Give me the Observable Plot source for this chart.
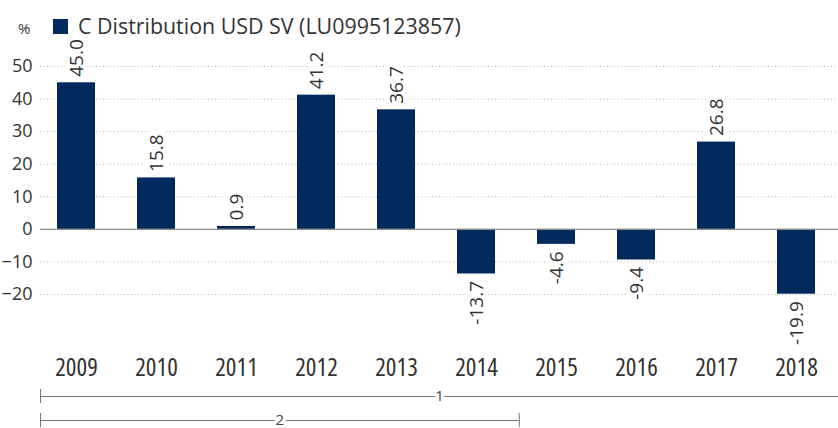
<!DOCTYPE html>
<html>
<head>
<meta charset="utf-8">
<script src="https://cdn.jsdelivr.net/npm/d3@7"></script>
<script src="https://cdn.jsdelivr.net/npm/@observablehq/plot@0.6"></script>
<style>
  html, body { margin: 0; padding: 0; background: #fff; }
  body { width: 838px; height: 428px; position: relative; overflow: hidden; font-family: "Open Sans", sans-serif; color: #333; }
  #legend { position: relative; height: 44px; }
  #unit { position: absolute; left: 18px; top: 21px; font-size: 15px; line-height: 1; }
  #swatch { position: absolute; left: 53px; top: 19px; width: 15px; height: 15px; }
  #series { position: absolute; left: 78px; top: 15px; font-size: 21.4px; line-height: 1; white-space: nowrap; }
  svg { display: block; }
  svg.main g[aria-label="x-axis tick label"] text { font-size: 25px; font-stretch: 80%; }
  svg.main g[aria-label="y-axis tick label"] text { font-size: 18px; }
</style>
</head>
<body>
<div id="legend"><span id="unit"></span><span id="swatch"></span><span id="series"></span></div>
<div id="chart"></div>
<div id="brackets"></div>
<script>
const years = ["2009", "2010", "2011", "2012", "2013", "2014", "2015", "2016", "2017", "2018"];
const returns = [45.0, 15.8, 0.9, 41.2, 36.7, -13.7, -4.6, -9.4, 26.8, -19.9];
const yTicks = [50, 40, 30, 20, 10, 0, -10, -20];
const seriesName = "C Distribution USD SV (LU0995123857)";
const unitLabel = "%";
const barColor = "#002a5c";
const periodLabels = ["1", "2"];
const periodStart = [2009, 2009];
const periodEnd = [2018, 2014];

document.getElementById("unit").textContent = unitLabel;
document.getElementById("series").textContent = seriesName;
document.getElementById("swatch").style.background = barColor;

const data = years.map((year, i) => ({year, value: returns[i]}));
const periods = periodLabels.map((label, i) => ({label, from: periodStart[i], to: periodEnd[i] + 1}));
const fmt = d => d.value.toFixed(1);

const main = Plot.plot({
  className: "main",
  width: 838,
  height: 340,
  marginLeft: 40,
  marginRight: 0,
  marginTop: 22,
  marginBottom: 57.4,
  style: {fontFamily: "'Open Sans', sans-serif", color: "#333", background: "transparent", overflow: "visible"},
  x: {domain: years, range: [35, 836], paddingInner: 0.525, paddingOuter: 0.2625},
  y: {domain: [-30, 50]},
  marks: [
    Plot.ruleY(yTicks.filter(v => v !== 0), {stroke: "#b5b5b5", strokeDasharray: "1,2.5"}),
    Plot.barY(data, {x: "year", y: "value", fill: barColor}),
    Plot.ruleY([0], {stroke: "#8a8a8a", strokeWidth: 1.2}),
    Plot.text(data.filter(d => d.value >= 0), {x: "year", y: "value", text: fmt, rotate: -90, textAnchor: "start", dy: -6, fill: "#333", stroke: "white", strokeWidth: 10, fontSize: 19, fontStretch: "80%"}),
    Plot.text(data.filter(d => d.value < 0), {x: "year", y: "value", text: fmt, rotate: -90, textAnchor: "end", dy: 7, fill: "#333", stroke: "white", strokeWidth: 10, fontSize: 19, fontStretch: "80%"}),
    Plot.axisY(yTicks, {tickSize: 0, tickPadding: 8, label: null, fill: "#333"}),
    Plot.axisX({tickSize: 0, tickPadding: 31, label: null, fill: "#333"})
  ]
});
document.getElementById("chart").appendChild(main);

const br = Plot.plot({
  width: 838,
  height: 44,
  margin: 0,
  style: {fontFamily: "'Open Sans', sans-serif", background: "transparent"},
  x: {type: "linear", domain: [2009, 2019], range: [40, 838], axis: null},
  y: {type: "band", domain: periodLabels, range: [0, 48], padding: 0, axis: null},
  marks: [
    Plot.ruleY(periods, {y: "label", x1: "from", x2: "to", stroke: "#777"}),
    Plot.tickX(periods, {x: "from", y: "label", stroke: "#777", insetTop: 5, insetBottom: 5}),
    Plot.tickX(periods, {x: "to", y: "label", stroke: "#777", insetTop: 5, insetBottom: 5}),
    Plot.text(periods, {x: d => (d.from + d.to) / 2, y: "label", text: "label", fontSize: 15, fill: "#444", stroke: "white", strokeWidth: 7})
  ]
});
document.getElementById("brackets").appendChild(br);
</script>
</body>
</html>
